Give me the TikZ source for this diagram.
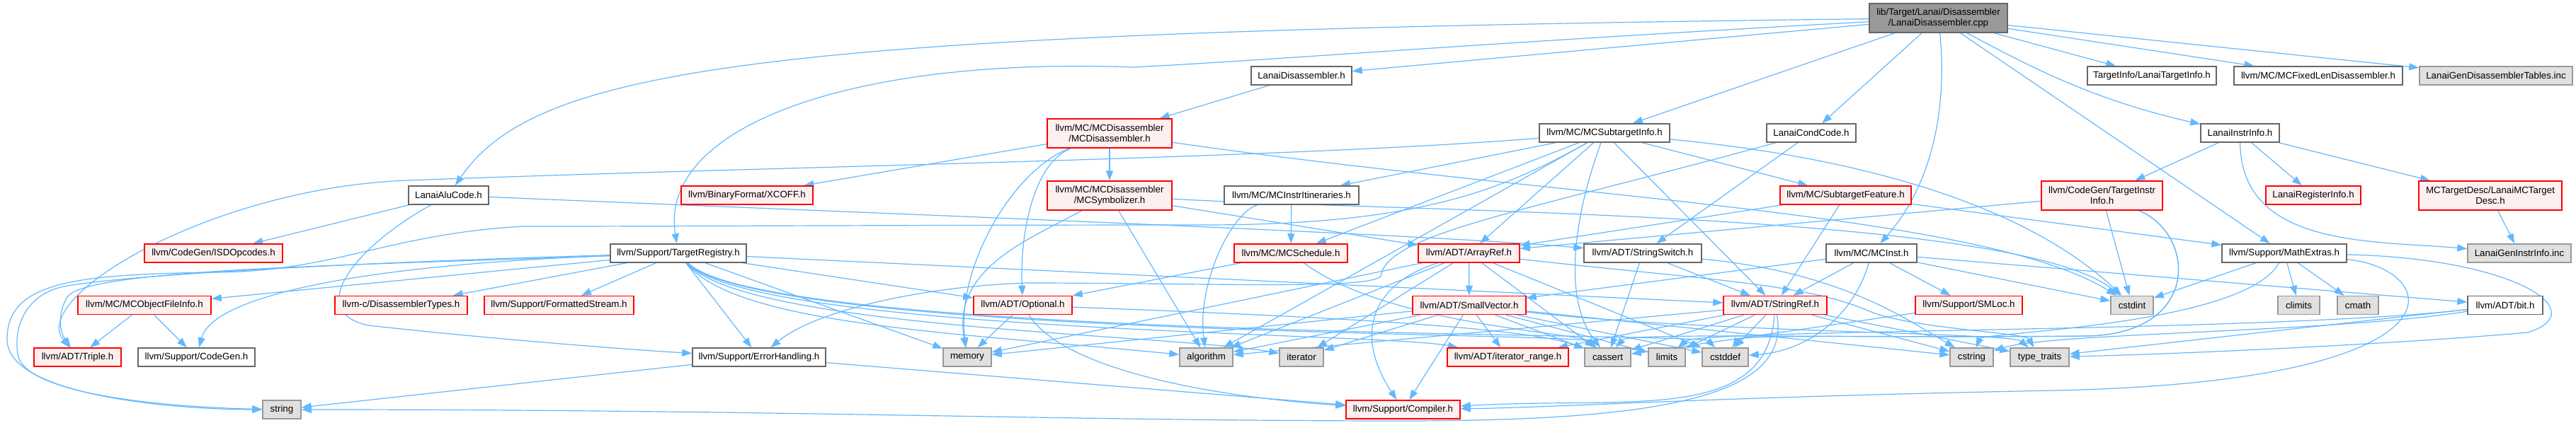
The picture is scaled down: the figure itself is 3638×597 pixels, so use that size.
\documentclass[tikz,border=0pt]{standalone}
\usepackage{fontspec}
\setmainfont{Liberation Sans}
\usetikzlibrary{arrows.meta}
\pgfdeclarelayer{bg}
\pgfsetlayers{bg,main}
\definecolor{edgec}{HTML}{63B8FF}
\definecolor{gsix}{HTML}{666666}
\definecolor{gnine}{HTML}{999999}
\definecolor{ge}{HTML}{E0E0E0}
\definecolor{rfill}{HTML}{FFF0F0}
\definecolor{rline}{HTML}{FF0000}
\tikzset{
  nbase/.style={draw, rectangle, inner sep=0pt, minimum height=26pt, line width=1.5pt,
    font=\fontsize{13.3}{14.7}\selectfont, text=black, align=center},
  wbox/.style={nbase, draw=gsix, fill=white},
  rbox/.style={nbase, draw=rline, fill=rfill},
  gbox/.style={nbase, draw=gnine, fill=ge},
  mbox/.style={nbase, draw=gsix, fill=gnine},
  dep/.style={draw=edgec, line width=1.2pt, -{Triangle[length=14pt,width=10pt]}}
}
\begin{document}
\begin{tikzpicture}[x=1pt,y=-1pt]
\useasboundingbox (0,0) rectangle (3638,597);
% row 0
\node[mbox, minimum width=195pt, minimum height=41pt] (main) at (2737.5,25.5) {lib/Target/Lanai/Disassembler\\/LanaiDisassembler.cpp};
% row 1
\node[wbox, minimum width=142pt] (dish) at (1838,107) {LanaiDisassembler.h};
\node[wbox, minimum width=182pt] (tinfo) at (3039,107) {TargetInfo/LanaiTargetInfo.h};
\node[wbox, minimum width=238pt] (fixlen) at (3274,107) {llvm/MC/MCFixedLenDisassembler.h};
\node[gbox, minimum width=216pt] (gentab) at (3525,107) {LanaiGenDisassemblerTables.inc};
% row 2
\node[rbox, minimum width=176pt, minimum height=41pt] (mcdis) at (1567,188.5) {llvm/MC/MCDisassembler\\/MCDisassembler.h};
\node[wbox, minimum width=184pt] (msti) at (2266,188) {llvm/MC/MCSubtargetInfo.h};
\node[wbox, minimum width=126pt] (cond) at (2558,188) {LanaiCondCode.h};
\node[wbox, minimum width=111pt] (linstr) at (3163.5,188) {LanaiInstrInfo.h};
% row 3
\node[wbox, minimum width=113pt] (alu) at (633.5,276) {LanaiAluCode.h};
\node[rbox, minimum width=186pt] (xcoff) at (1055,276) {llvm/BinaryFormat/XCOFF.h};
\node[rbox, minimum width=176pt, minimum height=41pt] (msym) at (1567,276.5) {llvm/MC/MCDisassembler\\/MCSymbolizer.h};
\node[wbox, minimum width=190pt] (mitin) at (1824,276) {llvm/MC/MCInstrItineraries.h};
\node[rbox, minimum width=185pt] (sfeat) at (2606.5,276) {llvm/MC/SubtargetFeature.h};
\node[rbox, minimum width=171pt, minimum height=41pt] (tii) at (2968.5,276.5) {llvm/CodeGen/TargetInstr\\Info.h};
\node[rbox, minimum width=134pt] (lreg) at (3267,276) {LanaiRegisterInfo.h};
\node[rbox, minimum width=202pt, minimum height=41pt] (mctd) at (3517,276.5) {MCTargetDesc/LanaiMCTarget\\Desc.h};
% row 4
\node[rbox, minimum width=195pt] (isd) at (301.5,358) {llvm/CodeGen/ISDOpcodes.h};
\node[wbox, minimum width=192pt] (treg) at (958,358) {llvm/Support/TargetRegistry.h};
\node[rbox, minimum width=160pt] (msched) at (1823,358) {llvm/MC/MCSchedule.h};
\node[rbox, minimum width=143pt] (aref) at (2074.5,358) {llvm/ADT/ArrayRef.h};
\node[wbox, minimum width=166pt] (sswitch) at (2320,358) {llvm/ADT/StringSwitch.h};
\node[wbox, minimum width=128pt] (minst) at (2643,358) {llvm/MC/MCInst.h};
\node[wbox, minimum width=176pt] (mathx) at (3226,358) {llvm/Support/MathExtras.h};
\node[gbox, minimum width=146pt] (geninstr) at (3558,358) {LanaiGenInstrInfo.inc};
% row 5
\node[rbox, minimum width=188pt] (mofi) at (204,431.5) {llvm/MC/MCObjectFileInfo.h};
\node[rbox, minimum width=187pt] (dtypes) at (566.5,431.5) {llvm-c/DisassemblerTypes.h};
\node[rbox, minimum width=211pt] (fstream) at (789.5,431.5) {llvm/Support/FormattedStream.h};
\node[rbox, minimum width=139pt] (optional) at (1444.5,431.5) {llvm/ADT/Optional.h};
\node[rbox, minimum width=160pt] (svec) at (2075,431.5) {llvm/ADT/SmallVector.h};
\node[rbox, minimum width=146pt] (sref) at (2507,431.5) {llvm/ADT/StringRef.h};
\node[rbox, minimum width=151pt] (smloc) at (2780.5,431.5) {llvm/Support/SMLoc.h};
\node[gbox, minimum width=60pt] (cstdint) at (3011,431.5) {cstdint};
\node[gbox, minimum width=59pt] (climits) at (3246.5,431.5) {climits};
\node[gbox, minimum width=58pt] (cmath) at (3330,431.5) {cmath};
\node[wbox, minimum width=106pt] (bit) at (3538,431.5) {llvm/ADT/bit.h};
% row 6
\node[rbox, minimum width=123pt] (triple) at (109.5,505) {llvm/ADT/Triple.h};
\node[wbox, minimum width=165pt] (cgen) at (277.5,505) {llvm/Support/CodeGen.h};
\node[wbox, minimum width=188pt] (ehandle) at (1072,505) {llvm/Support/ErrorHandling.h};
\node[gbox, minimum width=68pt] (memory) at (1366,505) {memory};
\node[gbox, minimum width=75pt] (algorithm) at (1703.5,505) {algorithm};
\node[gbox, minimum width=62pt] (iterator) at (1838,505) {iterator};
\node[rbox, minimum width=171pt] (irange) at (2129.5,505) {llvm/ADT/iterator\_range.h};
\node[gbox, minimum width=65pt] (cassert) at (2270.5,505) {cassert};
\node[gbox, minimum width=52pt] (limits) at (2354,505) {limits};
\node[gbox, minimum width=65pt] (cstddef) at (2436.5,505) {cstddef};
\node[gbox, minimum width=61pt] (cstring) at (2784.5,505) {cstring};
\node[gbox, minimum width=83pt] (ttraits) at (2880.5,505) {type\_traits};
% row 7
\node[gbox, minimum width=54pt] (string) at (398,579) {string};
\node[rbox, minimum width=161pt] (compiler) at (1981.5,579) {llvm/Support/Compiler.h};

\begin{pgfonlayer}{bg}
\foreach \a/\b in {main/dish, main/msti, main/cond, main/tinfo, main/fixlen, main/gentab, main/mathx,
  dish/mcdis, mcdis/xcoff, mcdis/msym, msym/aref, msym/algorithm,
  msti/aref, msti/sref, msti/mitin, msti/msched, msti/sfeat, msti/algorithm,
  cond/sswitch, alu/isd, linstr/tii, linstr/lreg, linstr/mctd, mctd/geninstr,
  tii/aref, tii/cstdint, mitin/msched, sfeat/aref, sfeat/sref, sfeat/mathx,
  treg/dtypes, treg/fstream, treg/optional, treg/sref, treg/mofi, treg/ehandle, treg/memory,
  msched/optional, aref/svec, aref/algorithm, aref/iterator, aref/memory, aref/cassert, aref/cstddef,
  sswitch/sref, sswitch/cassert, minst/sref, minst/smloc, minst/svec, minst/bit, minst/cstdint,
  mathx/cstdint, mathx/climits, mathx/cmath, optional/memory,
  svec/compiler, svec/irange, svec/algorithm, svec/iterator, svec/memory, svec/cassert, svec/cstddef, svec/cstring, svec/limits,
  sref/irange, sref/algorithm, sref/cassert, sref/cstddef, sref/cstring, sref/limits, sref/ttraits,
  smloc/cassert, bit/ttraits, mofi/triple, mofi/cgen, ehandle/compiler, ehandle/string}
  \draw[dep] (\a) -- (\b);
% curved connectors
\draw[dep] (main) .. controls (1100,45) and (760,90) .. (alu);
\draw[dep] (main) .. controls (2100,60) and (1800,85) .. (1600,95) .. controls (1200,80) and (930,180) .. (treg);
\draw[dep] (main) .. controls (2750,150) and (2730,260) .. (minst);
\draw[dep] (main) .. controls (2860,90) and (2950,140) .. (linstr);
\draw[dep] (msti) .. controls (1800,225) and (1100,235) .. (576,255) .. controls (300,265) and (40,420) .. (triple);
\draw[dep] (msti) .. controls (2120,270) and (2000,318) .. (1700,318) .. controls (1300,318) and (1000,320) .. (740,320) .. controls (550,330) and (470,385) .. (300,385) .. controls (100,388) and (10,400) .. (10,480) .. controls (10,560) and (250,579) .. (string);
\draw[dep] (msti) .. controls (2225,300) and (2205,420) .. (cassert);
\draw[dep] (msti) .. controls (2600,220) and (2850,280) .. (cstdint);
\draw[dep] (treg) .. controls (600,368) and (200,385) .. (90,405) .. controls (30,418) and (20,470) .. (25,500) .. controls (32,560) and (250,576) .. (string);
\draw[dep] (treg) .. controls (500,375) and (120,380) .. (95,420) .. controls (80,445) and (85,470) .. (triple);
\draw[dep] (treg) .. controls (500,375) and (300,420) .. (cgen);
\draw[dep] (treg) .. controls (1040,460) and (1350,470) .. (algorithm);
\draw[dep] (treg) .. controls (1050,465) and (1650,472) .. (iterator);
\draw[dep] (treg) .. controls (1060,470) and (1950,470) .. (irange);
\draw[dep] (treg) .. controls (1070,475) and (2230,470) .. (cassert);
\draw[dep] (treg) .. controls (1080,480) and (2400,470) .. (cstddef);
\draw[dep] (mcdis) .. controls (1460,230) and (1440,330) .. (optional);
\draw[dep] (mcdis) .. controls (1430,240) and (1350,380) .. (memory);
\draw[dep] (mcdis) .. controls (2200,280) and (2800,300) .. (cstdint);
\draw[dep] (msym) .. controls (1450,340) and (1345,380) .. (memory);
\draw[dep] (msym) .. controls (2000,300) and (2850,300) .. (cstdint);
\draw[dep] (cond) .. controls (2150,300) and (1960,330) .. (1950,390) .. controls (1940,410) and (1700,400) .. (1450,400) .. controls (1300,405) and (1150,440) .. (ehandle);
\draw[dep] (alu) .. controls (500,350) and (430,440) .. (520,460) .. controls (700,480) and (900,495) .. (ehandle);
\draw[dep] (alu) .. controls (1200,300) and (2000,330) .. (sswitch);
\draw[dep] (linstr) .. controls (3165,350) and (3350,340) .. (geninstr);
\draw[dep] (tii) .. controls (3100,330) and (3110,470) .. (2950,475) .. controls (2600,478) and (2300,470) .. (cassert);
\draw[dep] (tii) .. controls (3100,330) and (3110,470) .. (2950,475) .. controls (2700,478) and (2460,472) .. (cstddef);
\draw[dep] (mitin) .. controls (1740,300) and (1690,400) .. (algorithm);
\draw[dep] (msched) .. controls (1960,460) and (2230,470) .. (cassert);
\draw[dep] (aref) .. controls (1940,400) and (1910,470) .. (compiler);
\draw[dep] (aref) .. controls (2400,395) and (2550,400) .. (2640,440) .. controls (2700,465) and (2860,470) .. (ttraits);
\draw[dep] (svec) .. controls (2400,470) and (2840,470) .. (ttraits);
\draw[dep] (mathx) .. controls (3450,380) and (3500,540) .. (2900,552) .. controls (2400,562) and (2200,576) .. (compiler);
\draw[dep] (mathx) .. controls (3550,365) and (3665,440) .. (3570,470) .. controls (3400,485) and (3100,500) .. (ttraits);
\draw[dep] (mathx) .. controls (3170,460) and (2800,470) .. (cstring);
\draw[dep] (bit) .. controls (3300,470) and (2900,470) .. (cstring);
\draw[dep] (bit) .. controls (3200,470) and (2400,465) .. (limits);
\draw[dep] (minst) .. controls (2620,440) and (2560,495) .. (cstddef);
\draw[dep] (sswitch) .. controls (2600,385) and (2690,450) .. (cstring);
\draw[dep] (optional) .. controls (1500,520) and (1700,560) .. (compiler);
\draw[dep] (optional) .. controls (1800,445) and (2150,460) .. (cassert);
\draw[dep] (sref) .. controls (2495,600) and (2300,560) .. (compiler);
\draw[dep] (sref) .. controls (2530,560) and (2350,595) .. (1980,595) .. controls (1500,595) and (1100,579) .. (string);
\end{pgfonlayer}
\end{tikzpicture}
\end{document}
